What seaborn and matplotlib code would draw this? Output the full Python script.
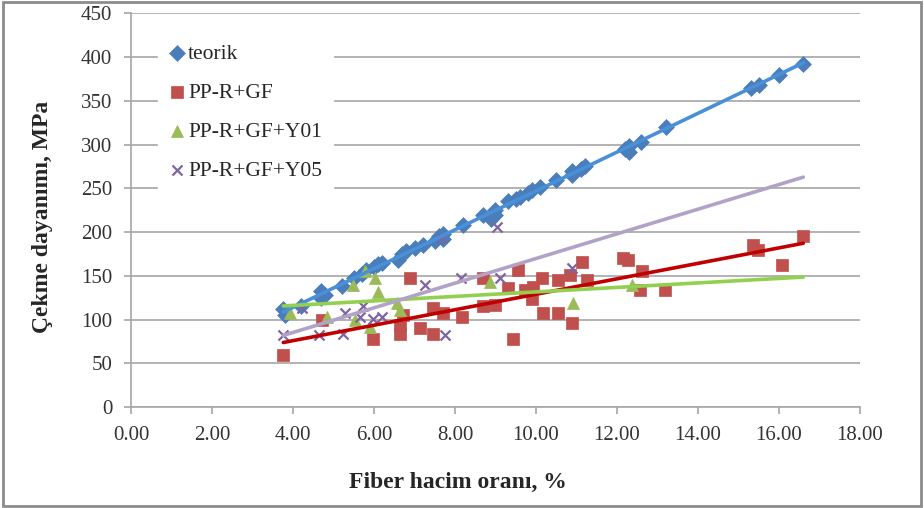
import numpy as np
import pandas as pd
import matplotlib
matplotlib.use("Agg")
import matplotlib.pyplot as plt
import seaborn as sns

# Data
teorik_x = [3.76, 3.8, 4.2, 4.7, 4.7, 4.8, 5.2, 5.5, 5.7, 5.8, 6.0, 6.1, 6.2, 6.6, 6.7, 6.8,
            7.0, 7.2, 7.5, 7.6, 7.7, 7.7, 8.2, 8.7, 8.9, 9.0, 9.0, 9.3, 9.5, 9.6, 9.8, 9.9,
            10.1, 10.5, 10.9, 10.9, 11.1, 11.2, 12.2, 12.3, 12.3, 12.6, 13.2, 15.3, 15.5,
            16.0, 16.6]
teorik_y = [112, 105, 115, 125, 133, 128, 138, 148, 152, 157, 160, 163, 165, 168, 175, 178,
            182, 185, 190, 195, 192, 198, 208, 220, 215, 225, 220, 235, 238, 240, 245, 248,
            252, 260, 265, 270, 272, 275, 295, 298, 292, 303, 320, 365, 368,
            380, 392]

gf_x = [3.76, 4.71, 5.98, 6.64, 6.64, 6.72, 6.89, 7.14, 7.46, 7.46, 7.71, 8.17, 8.7, 8.7,
        8.99, 9.32, 9.44, 9.56, 9.73, 9.89, 9.93, 10.14, 10.18, 10.55, 10.55, 10.88, 10.84,
        11.13, 11.25, 12.16, 12.28, 12.57, 12.61, 13.19, 15.37, 15.49, 16.07, 16.6]
gf_y = [59, 100, 78, 84, 94, 105, 148, 90, 113, 84, 107, 103, 147, 115,
        117, 136, 78, 157, 134, 124, 137, 148, 107, 145, 107, 96, 151,
        166, 145, 170, 168, 134, 155, 134, 185, 179, 162, 195]

y01_x = [3.93, 4.83, 5.49, 5.78, 6.02, 6.11, 6.56, 6.64, 5.53, 5.9, 8.86, 10.92, 12.36]
y01_y = [107, 103, 139, 155, 147, 132, 119, 111, 99, 92, 143, 119, 139]

y05_x = [3.76, 4.21, 4.63, 5.24, 5.28, 5.65, 5.74, 5.98, 6.19, 7.26, 7.67, 7.75, 8.16,
         9.03, 9.11, 10.88]
y05_y = [82, 113, 82, 84, 107, 103, 115, 101, 103, 139, 193, 82, 147,
         206, 147, 159]

series = ["teorik", "PP-R+GF", "PP-R+GF+Y01", "PP-R+GF+Y05"]
xs = [teorik_x, gf_x, y01_x, y05_x]
ys = [teorik_y, gf_y, y01_y, y05_y]

marker_colors = ["#4a7ebb", "#c0504d", "#9bbb59", "#8064a2"]
line_colors = ["#4a90d9", "#c00000", "#92d050", "#b3a2c7"]
markers = ["D", "s", "^", "x"]
sizes = [65, 70, 75, 52]

sns.set_style("white")
plt.rcParams["font.family"] = ["Liberation Serif", "DejaVu Serif"]

fig = plt.figure(figsize=(9.24, 5.08), dpi=100)
ax = fig.add_axes([0.1418, 0.1988, 0.7889, 0.7748])

# trendlines span the whole data range (like the Excel chart)
x_lo = min(min(x) for x in xs)
x_hi = max(max(x) for x in xs)

for name, x, y, mc, lc, mk, sz in zip(series, xs, ys, marker_colors, line_colors, markers, sizes):
    df = pd.DataFrame({"x": x, "y": y})
    if mk == "x":
        sns.scatterplot(data=df, x="x", y="y", marker=mk, color=mc, s=sz, linewidth=1.6,
                        ax=ax, label=name, zorder=3)
    else:
        sns.scatterplot(data=df, x="x", y="y", marker=mk, color=mc, s=sz, edgecolor=mc,
                        linewidth=0.5, ax=ax, label=name, zorder=3)
    ax.set_xlim(x_lo, x_hi)
    sns.regplot(data=df, x="x", y="y", scatter=False, ci=None, truncate=False, color=lc,
                line_kws={"linewidth": 2.6, "zorder": 4}, ax=ax)

ax.set_xlim(0, 18)
ax.set_ylim(0, 450)
ax.set_xticks(np.arange(0, 18.1, 2))
ax.set_xticklabels([f"{v:.2f}" for v in np.arange(0, 18.1, 2)])
ax.set_yticks(np.arange(0, 451, 50))
ax.yaxis.grid(True, color="#a6a6a6", linewidth=1.2)
ax.set_axisbelow(True)
for s in ["top", "right"]:
    ax.spines[s].set_visible(False)
for s in ["left", "bottom"]:
    ax.spines[s].set_color("#a6a6a6")
    ax.spines[s].set_linewidth(1.2)
ax.tick_params(axis="both", which="both", direction="out", length=5, width=1.2,
               color="#a6a6a6", labelsize=15, labelcolor="#333333", bottom=True, left=True)
ax.tick_params(axis="y", pad=8.5)
ax.tick_params(axis="x", pad=9)

ax.set_xlabel("Fiber hacim oranı, %", fontsize=17, fontweight="bold", va="top")
ax.xaxis.set_label_coords(0.4486, -0.165)
ax.set_ylabel("Çekme dayanımı, MPa", fontsize=17, fontweight="bold")
ax.yaxis.set_label_coords(-0.107, 0.483)

leg = ax.legend(loc="upper left", bbox_to_anchor=(0.037, 0.95), borderaxespad=0,
                frameon=True, fancybox=False, edgecolor="white", facecolor="white",
                framealpha=1, fontsize=15.5, labelspacing=0.88, handletextpad=0.1,
                handlelength=0.8, borderpad=0.5)

# outer chart border
fig.patches.append(plt.Rectangle((0.003, 0.004), 0.994, 0.992, transform=fig.transFigure,
                                 fill=False, edgecolor="#8c8c8c", linewidth=2))

fig.savefig("out.png", dpi=100)
